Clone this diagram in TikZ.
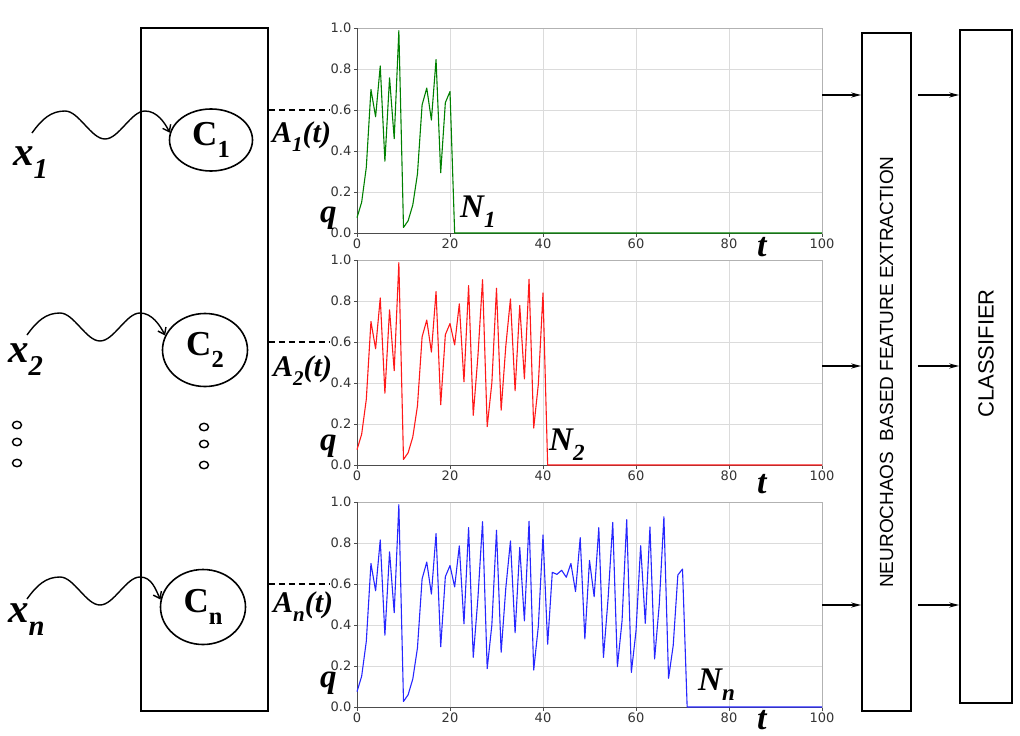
\documentclass[tikz,border=0pt]{standalone}
\usepackage{fontspec}
\setmainfont{Liberation Serif}
\newfontfamily\tickfont{DejaVu Sans}
\newfontfamily\boxfont{Liberation Sans}
\usetikzlibrary{arrows.meta,shapes.geometric}
\newcommand{\lowsub}[1]{\raisebox{-.32em}{\scalebox{.7}{#1}}}
\newcommand{\qa}{0.15,0.32,0.70,0.567,0.815,0.35,0.757,0.46,0.987,0.027,0.06,0.137,0.288,0.625,0.707,0.551,0.846,0.294,0.636,0.69}
\newcommand{\qb}{0.586,0.786,0.406,0.875,0.242,0.53,0.904,0.187,0.40,0.862,0.267,0.58,0.81,0.362,0.778,0.42,0.906,0.18,0.395,0.839}
\newcommand{\qc}{0.306,0.657,0.647,0.667,0.633,0.70,0.563,0.826,0.332,0.715,0.538,0.875,0.242,0.53,0.90,0.197,0.42,0.914,0.169,0.37,0.787,0.408,0.878,0.234,0.5,0.928,0.14,0.30,0.644,0.673}
\tikzset{
style1/.style={ellipse, draw, line width=1.6pt, inner sep=0pt, font=\fontsize{35}{35}\selectfont\bfseries},
style2/.style={rectangle, draw, line width=1.6pt, inner sep=0pt},
style3/.style={inner sep=0pt, anchor=base west, font=\fontsize{#1}{#1}\selectfont\bfseries\itshape},
gridline/.style={gray!28, line width=0.8pt},
tick/.style={inner sep=1pt, text=black!80, font=\tickfont\fontsize{13}{13}\selectfont}
}
\begin{document}
\begin{tikzpicture}[x=1pt, y=-1pt, >={Stealth[length=10pt,width=5pt]}]
\useasboundingbox (0,0) rectangle (1020,736);

\node[style2, minimum width=127pt, minimum height=683pt] (bank) at (204.5,369.5) {};
\node[style1, minimum width=83pt, minimum height=62pt] (c1) at (211,140) {C\lowsub{1}};
\node[style1, minimum width=85pt, minimum height=73pt] (c2) at (205,350) {C\lowsub{2}};
\node[style1, minimum width=85pt, minimum height=75pt] (c3) at (203,607) {C\lowsub{n}};

\node[style3=41] (x1) at (13,165) {x\lowsub{1}};
\node[style3=41] (x2) at (8,362) {x\lowsub{2}};
\node[style3=41] (x3) at (8,622) {x\lowsub{n}};
\coordinate (w1) at (32,133);
\coordinate (w2) at (27,335);
\coordinate (w3) at (27,599);

\foreach \i/\a in {1/170,2/160,3/170}
  \draw[line width=1.4pt, -{Straight Barb[length=6pt,width=9pt]}] (w\i) .. controls +(10,-14) and +(-14,0) .. ++(33,-22) .. controls +(14,0) and +(-14,0) .. ++(40,28) .. controls +(14,0) and +(-14,0) .. ++(40,-28) .. controls +(12,0) and +(-5,-10) .. (c\i.\a);

\foreach \y in {425,442,463}
  \draw[line width=1.4pt] (17,\y) ellipse [x radius=4.5, y radius=3.7];
\foreach \y in {427,444,465}
  \draw[line width=1.4pt] (204,\y) ellipse [x radius=4.5, y radius=3.7];

\foreach \i/\y in {1/233,2/465,3/707} {
  \begin{scope}[shift={(357,\y)}, x=4.65pt, y=205pt]
    \foreach \k in {0,20,...,100} {
      \draw[gridline] (\k,0) -- (\k,1);
      \draw[black!70] (\k,0) -- ++(0,-3.5pt);
      \node[tick, anchor=north] at ([yshift=-4.5pt]\k,0) {\k};
    }
    \foreach \q/\n in {0.0/0,0.2/2,0.4/4,0.6/6,0.8/8,1.0/10} {
      \draw[gridline] (0,\q) -- (100,\q);
      \draw[black!70] (0,\q) -- ++(-3.5pt,0);
      \node[tick, anchor=east] (y\i-\n) at ([xshift=-4.5pt]0,\q) {\q};
    }
    \draw[gray!60] (0,0) rectangle (100,1);
    \draw[black!70] (0,1) -- (0,0) -- (100,0);
  \end{scope}
}

\begin{scope}[shift={(357,233)}, x=4.65pt, y=205pt, line width=1.1pt, line join=round]
  \draw[green!50!black] (0,0.075) \foreach \v [count=\k] in \qa {-- (\k,\v)} -- (21,0) -- (100,0);
\end{scope}
\begin{scope}[shift={(357,465)}, x=4.65pt, y=205pt, line width=1.1pt, line join=round]
  \draw[red!90] (0,0.075) \foreach \v [count=\k] in \qa {-- (\k,\v)} \foreach \v [count=\k from 21] in \qb {-- (\k,\v)} -- (41,0) -- (100,0);
\end{scope}
\begin{scope}[shift={(357,707)}, x=4.65pt, y=205pt, line width=1.1pt, line join=round]
  \draw[blue!85] (0,0.075) \foreach \v [count=\k] in \qa {-- (\k,\v)} \foreach \v [count=\k from 21] in \qb {-- (\k,\v)} \foreach \v [count=\k from 41] in \qc {-- (\k,\v)} -- (71,0) -- (100,0);
\end{scope}

\foreach \i in {1,2,3}
  \draw[dash pattern=on 6pt off 4pt, line width=1.4pt] (bank.east |- y\i-6) -- (y\i-6.west);

\node[style3=30] (a1) at (272,142) {A\lowsub{1}(t)};
\node[style3=30] (a2) at (273,376) {A\lowsub{2}(t)};
\node[style3=30] (a3) at (273,612) {A\lowsub{n}(t)};

\node[style3=33] (q1) at (320,222) {q};
\node[style3=33] (q2) at (320,450) {q};
\node[style3=33] (q3) at (320,687) {q};

\node[style3=33] (n1) at (460,217) {N\lowsub{1}};
\node[style3=33] (n2) at (549,450) {N\lowsub{2}};
\node[style3=33] (n3) at (698,690) {N\lowsub{n}};

\node[style3=34] (t1) at (757,256) {t};
\node[style3=34] (t2) at (757,493) {t};
\node[style3=34] (t3) at (757,729) {t};

\node[style2, minimum width=49pt, minimum height=678pt, font=\boxfont\fontsize{19}{19}\selectfont] (b1) at (886.5,372) {\rotatebox{90}{NEUROCHAOS\ \ BASED FEATURE EXTRACTION}};
\node[style2, minimum width=52pt, minimum height=673pt, font=\boxfont\fontsize{22}{22}\selectfont] (b2) at (986,366.5) {\rotatebox{90}{\hspace{26pt}CLASSIFIER}};

\coordinate (r1) at (822,95);
\coordinate (r2) at (822,366);
\coordinate (r3) at (822,605);
\foreach \i in {1,2,3} {
  \draw[->, line width=1.3pt] (r\i) -- (r\i -| b1.west);
  \draw[->, line width=1.3pt] ([xshift=6pt]r\i -| b1.east) -- (r\i -| b2.west);
}
\end{tikzpicture}
\end{document}
